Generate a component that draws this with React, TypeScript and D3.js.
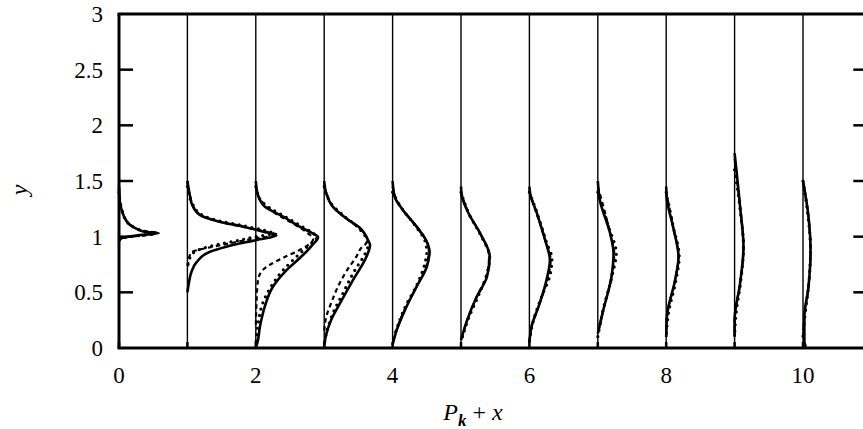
import React, { useEffect, useRef } from 'react';
import * as d3 from 'd3';

type Pt = [number, number]; // [y, P]

// stations x = 0..10, profiles given as [y, P] pairs, top to bottom
const stations = [0, 1, 2, 3, 4, 5, 6, 7, 8, 9, 10];
const xTicks = [0, 2, 4, 6, 8, 10];
const xMinorTicks = [1, 3, 5, 7, 9];
const yTicks = [0, 0.5, 1, 1.5, 2, 2.5, 3];
const yTickLabels = ['0', '0.5', '1', '1.5', '2', '2.5', '3'];

const solidProfiles: Pt[][] = [
  [[1.45, 0], [1.3, 0.015], [1.24, 0.04], [1.16, 0.09], [1.105, 0.16], [1.07, 0.26], [1.045, 0.37], [1.03, 0.58], [1.015, 0.3], [1.0, 0.14], [0.985, 0.03], [0.96, 0]],
  [[1.5, 0], [1.36, 0.04], [1.285, 0.07], [1.195, 0.18], [1.135, 0.47], [1.09, 0.82], [1.045, 1.11], [1.01, 1.3], [0.97, 1.01], [0.91, 0.57], [0.865, 0.33], [0.775, 0.14], [0.685, 0.06], [0.58, 0.02], [0.5, 0]],
  [[1.5, 0], [1.4, 0.02], [1.33, 0.06], [1.27, 0.13], [1.18, 0.4], [1.09, 0.64], [1.03, 0.83], [0.995, 0.91], [0.92, 0.82], [0.835, 0.69], [0.7, 0.45], [0.55, 0.25], [0.37, 0.13], [0.19, 0.06], [0.04, 0.02], [0.01, 0]],
  [[1.5, 0], [1.39, 0.03], [1.27, 0.125], [1.165, 0.32], [1.08, 0.52], [0.97, 0.64], [0.925, 0.67], [0.81, 0.61], [0.61, 0.42], [0.4, 0.23], [0.25, 0.1], [0.1, 0.02], [0.01, 0]],
  [[1.5, 0], [1.36, 0.03], [1.24, 0.15], [1.09, 0.35], [0.955, 0.5], [0.865, 0.54], [0.73, 0.5], [0.55, 0.35], [0.34, 0.18], [0.16, 0.06], [0.03, 0]],
  [[1.45, 0], [1.375, 0.01], [1.21, 0.11], [1.03, 0.28], [0.82, 0.42], [0.64, 0.38], [0.46, 0.23], [0.25, 0.09], [0.07, 0]],
  [[1.45, 0], [1.39, 0.01], [1.21, 0.11], [0.97, 0.23], [0.79, 0.3], [0.61, 0.25], [0.4, 0.15], [0.19, 0.03], [0.05, 0]],
  [[1.5, 0], [1.33, 0.03], [1.03, 0.18], [0.85, 0.23], [0.64, 0.2], [0.34, 0.08], [0.13, 0]],
  [[1.45, 0], [1.36, 0.005], [1.09, 0.1], [0.82, 0.18], [0.61, 0.13], [0.28, 0.01], [0.1, 0]],
  [[1.75, 0], [1.27, 0.08], [0.91, 0.13], [0.58, 0.08], [0.25, 0], [0.1, 0]],
  [[1.5, 0], [1.18, 0.08], [0.88, 0.11], [0.55, 0.08], [0.28, 0.02], [0.06, 0.02], [0.01, 0.04]],
];

const dashedProfiles: Pt[][] = [
  [[1.45, 0], [1.3, 0.02], [1.2, 0.06], [1.1, 0.18], [1.05, 0.38], [1.035, 0.55], [1.01, 0.35], [1.0, 0.15], [0.99, 0.04], [0.96, 0]],
  [[1.5, 0], [1.36, 0.04], [1.28, 0.08], [1.19, 0.2], [1.13, 0.5], [1.08, 0.88], [1.04, 1.18], [1.015, 1.32], [0.99, 1.05], [0.95, 0.7], [0.925, 0.5], [0.9, 0.3], [0.88, 0.15], [0.86, 0.06], [0.8, 0.02], [0.7, 0]],
  [[1.45, 0], [1.34, 0.06], [1.225, 0.25], [1.12, 0.54], [1.04, 0.74], [0.98, 0.84], [0.93, 0.78], [0.88, 0.64], [0.81, 0.4], [0.745, 0.2], [0.7, 0.1], [0.6, 0.03], [0.4, 0.01], [0.2, 0]],
  [[1.45, 0], [1.38, 0.04], [1.26, 0.14], [1.16, 0.33], [1.07, 0.52], [0.97, 0.63], [0.93, 0.6], [0.91, 0.56], [0.82, 0.47], [0.685, 0.32], [0.55, 0.2], [0.4, 0.1], [0.28, 0.03], [0.15, 0]],
  [[1.45, 0], [1.3, 0.08], [1.15, 0.27], [1.0, 0.46], [0.88, 0.53], [0.75, 0.5], [0.55, 0.35], [0.35, 0.18], [0.15, 0.05], [0.03, 0]],
  [[1.4, 0], [1.2, 0.12], [1.03, 0.28], [0.82, 0.41], [0.64, 0.37], [0.46, 0.23], [0.25, 0.09], [0.07, 0]],
  [[1.4, 0], [1.2, 0.11], [0.97, 0.23], [0.79, 0.31], [0.61, 0.26], [0.4, 0.15], [0.19, 0.03], [0.05, 0]],
  [[1.45, 0], [1.03, 0.18], [0.85, 0.24], [0.64, 0.2], [0.34, 0.08], [0.13, 0]],
  [[1.4, 0], [1.09, 0.1], [0.82, 0.18], [0.61, 0.13], [0.28, 0.01], [0.1, 0]],
  [[1.7, 0], [1.27, 0.08], [0.91, 0.13], [0.58, 0.08], [0.25, 0], [0.1, 0]],
  [[1.5, 0], [1.18, 0.08], [0.88, 0.11], [0.55, 0.08], [0.28, 0.02], [0.1, 0]],
];

const dottedProfiles: Pt[][] = [
  [[1.4, 0], [1.25, 0.04], [1.15, 0.1], [1.09, 0.2], [1.05, 0.36], [1.03, 0.52], [1.01, 0.3], [0.995, 0.1], [0.97, 0]],
  [[1.45, 0], [1.3, 0.07], [1.2, 0.2], [1.14, 0.48], [1.1, 0.8], [1.06, 1.1], [1.03, 1.25], [1.0, 1.0], [0.96, 0.7], [0.93, 0.45], [0.9, 0.25], [0.86, 0.1], [0.8, 0.03], [0.7, 0]],
  [[1.45, 0], [1.32, 0.08], [1.26, 0.2], [1.18, 0.43], [1.1, 0.65], [1.03, 0.84], [1.0, 0.9], [0.95, 0.83], [0.88, 0.7], [0.8, 0.56], [0.7, 0.4], [0.55, 0.22], [0.4, 0.1], [0.2, 0.03], [0.02, 0]],
  [[1.45, 0], [1.3, 0.1], [1.18, 0.3], [1.08, 0.5], [0.98, 0.62], [0.92, 0.64], [0.85, 0.6], [0.7, 0.45], [0.5, 0.28], [0.3, 0.12], [0.1, 0.02], [0.02, 0]],
  [[1.4, 0], [1.25, 0.14], [1.1, 0.33], [0.95, 0.48], [0.86, 0.5], [0.78, 0.48], [0.6, 0.38], [0.35, 0.17], [0.1, 0.02]],
  [[1.4, 0], [1.2, 0.12], [1.0, 0.3], [0.82, 0.42], [0.65, 0.37], [0.45, 0.24], [0.25, 0.1], [0.05, 0]],
  [[1.4, 0], [1.2, 0.12], [0.95, 0.25], [0.8, 0.33], [0.65, 0.3], [0.45, 0.17], [0.2, 0.04], [0.05, 0]],
  [[1.4, 0], [1.1, 0.15], [0.85, 0.27], [0.65, 0.21], [0.35, 0.08], [0.1, 0]],
  [[1.4, 0], [1.1, 0.1], [0.82, 0.19], [0.6, 0.14], [0.3, 0.03], [0.1, 0]],
  [[1.6, 0], [1.25, 0.08], [0.9, 0.13], [0.6, 0.09], [0.3, 0.02], [0.1, 0]],
  [[1.5, 0], [1.2, 0.07], [0.88, 0.11], [0.55, 0.08], [0.3, 0.03], [0.1, 0]],
];

const W = 863;
const H = 429;
const FONT = '"Liberation Serif", "Times New Roman", serif';

export default function App() {
  const ref = useRef<SVGSVGElement>(null);

  useEffect(() => {
    const svg = d3.select(ref.current);
    svg.selectAll('*').remove();

    // plot area
    const x = d3.scaleLinear().domain([0, 10]).range([119, 803]);
    const y = d3.scaleLinear().domain([0, 3]).range([348, 14]);
    const xRight = x(10.94);

    // station baselines
    svg.append('g')
      .selectAll('line')
      .data(stations.slice(1))
      .enter()
      .append('line')
      .attr('x1', d => x(d)).attr('x2', d => x(d))
      .attr('y1', y(0)).attr('y2', y(3))
      .attr('stroke', '#000')
      .attr('stroke-width', 1.4);

    // profiles
    const draw = (profiles: Pt[][], style: (p: d3.Selection<SVGPathElement, Pt[], SVGGElement, unknown>) => void) => {
      const g = svg.append('g');
      const paths = g.selectAll<SVGPathElement, Pt[]>('path')
        .data(profiles)
        .enter()
        .append('path')
        .attr('fill', 'none')
        .attr('stroke', '#000')
        .attr('d', (d, i) => d3.line<Pt>()
          .x(p => x(stations[i] + p[1]))
          .y(p => y(p[0]))
          .curve(d3.curveMonotoneY)(d));
      style(paths);
    };

    draw(dashedProfiles, p => p.attr('stroke-width', 2.2).attr('stroke-dasharray', '4.5,3.5'));
    draw(dottedProfiles, p => p.attr('stroke-width', 3.2).attr('stroke-dasharray', '0,6.5').attr('stroke-linecap', 'round'));
    draw(solidProfiles, p => p.attr('stroke-width', 2.6).attr('stroke-linejoin', 'round'));

    // frame
    const frame = svg.append('g').attr('stroke', '#000').attr('stroke-width', 3);
    frame.append('line').attr('x1', x(0) - 1.5).attr('x2', xRight).attr('y1', y(3)).attr('y2', y(3));
    frame.append('line').attr('x1', x(0) - 1.5).attr('x2', xRight).attr('y1', y(0)).attr('y2', y(0));
    frame.append('line').attr('x1', x(0)).attr('x2', x(0)).attr('y1', y(0)).attr('y2', y(3));
    frame.append('line').attr('x1', xRight).attr('x2', xRight).attr('y1', y(0)).attr('y2', y(3));

    // y ticks, left and right, pointing inward
    const ticks = svg.append('g').attr('stroke', '#000').attr('stroke-width', 2.5);
    ticks.selectAll('line.l')
      .data(yTicks.slice(1, -1))
      .enter()
      .append('line')
      .attr('x1', x(0)).attr('x2', x(0) + 14)
      .attr('y1', d => y(d)).attr('y2', d => y(d));
    ticks.selectAll('line.r')
      .data(yTicks.slice(1, -1))
      .enter()
      .append('line')
      .attr('x1', xRight - 14).attr('x2', xRight)
      .attr('y1', d => y(d)).attr('y2', d => y(d));

    // x ticks on the bottom
    ticks.selectAll('line.b')
      .data(xTicks.concat(xMinorTicks))
      .enter()
      .append('line')
      .attr('x1', d => x(d)).attr('x2', d => x(d))
      .attr('y1', y(0)).attr('y2', y(0) - 6);

    // tick labels
    svg.append('g')
      .selectAll('text')
      .data(yTicks)
      .enter()
      .append('text')
      .attr('x', 103)
      .attr('y', d => y(d) + 8)
      .attr('text-anchor', 'end')
      .style('font-family', FONT)
      .style('font-size', '23px')
      .text((d, i) => yTickLabels[i]);

    svg.append('g')
      .selectAll('text')
      .data(xTicks)
      .enter()
      .append('text')
      .attr('x', d => x(d))
      .attr('y', 383)
      .attr('text-anchor', 'middle')
      .style('font-family', FONT)
      .style('font-size', '23px')
      .text(d => String(d));

    // axis titles
    const xt = svg.append('text')
      .attr('x', 473)
      .attr('y', 420)
      .attr('text-anchor', 'middle')
      .style('font-family', FONT)
      .style('font-size', '24px');
    xt.append('tspan').style('font-style', 'italic').text('P');
    xt.append('tspan').attr('dy', 6).style('font-style', 'italic').style('font-weight', 'bold').style('font-size', '17px').text('k');
    xt.append('tspan').attr('dy', -6).text(' + ');
    xt.append('tspan').style('font-style', 'italic').text('x');

    svg.append('text')
      .attr('transform', 'translate(27,190) rotate(-90)')
      .attr('text-anchor', 'middle')
      .style('font-family', FONT)
      .style('font-size', '24px')
      .style('font-style', 'italic')
      .text('y');
  }, []);

  return (
    <svg ref={ref} width={W} height={H} style={{ position: 'absolute', left: 0, top: 0, background: '#fff' }} />
  );
}
